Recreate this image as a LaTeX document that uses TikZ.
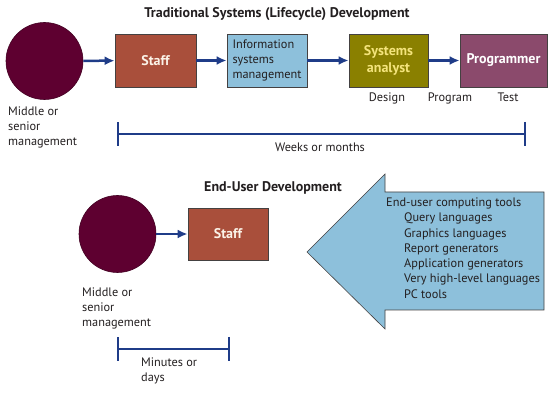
\documentclass[tikz,border=0pt]{standalone}
\usepackage{fontspec}
\setmainfont{PT Sans}
\usetikzlibrary{arrows.meta,positioning}
\definecolor{ink}{HTML}{231F20}
\definecolor{navy}{HTML}{1F3C88}
\definecolor{maroon}{HTML}{5E0030}
\definecolor{brick}{HTML}{A94F3B}
\definecolor{skyblue}{HTML}{8DC0DB}
\definecolor{olive}{HTML}{8A8000}
\definecolor{mauve}{HTML}{8B4A6C}
\definecolor{straw}{HTML}{F4E47C}
\definecolor{cream}{HTML}{FBF3E8}
\tikzset{
  >={Latex[length=10pt,width=9pt]},
  every node/.style={font=\fontsize{12.3}{15.3}\selectfont,text=ink},
  box/.style={draw=ink!85,line width=0.8pt,minimum height=53pt,inner sep=2pt,align=center},
  boldbox/.style={box,font=\fontsize{14}{17}\selectfont\bfseries},
  staffbox/.style={boldbox,fill=brick,minimum width=81pt,text=cream},
  ismbox/.style={box,fill=skyblue,minimum width=80pt,align=left},
  analystbox/.style={boldbox,fill=olive,minimum width=79pt,text=straw},
  progbox/.style={boldbox,fill=mauve,minimum width=87pt,text=white},
  mgr/.style={circle,fill=maroon,draw=maroon!70!black,line width=0.6pt,minimum size=77pt,inner sep=0pt},
  flow/.style={->,draw=navy,line width=2.5pt},
  span/.style={{Bar[width=24pt]}-{Bar[width=24pt]},draw=navy,line width=2pt},
  heading/.style={font=\fontsize{14}{17}\selectfont\bfseries,anchor=base},
  txt/.style={align=left,anchor=base west,inner sep=0pt},
  stage/.style={anchor=base,inner sep=0pt},
  toolarrow/.style={fill=skyblue,draw=ink!85,line width=0.6pt}
}
\begin{document}
\begin{tikzpicture}[x=1pt,y=-1pt]
  \useasboundingbox (0,0) rectangle (558,403);

  % traditional lifecycle
  \node[heading] (title1) at (277,18) {Traditional Systems (Lifecycle) Development};
  \node[mgr] (mgr1) at (44.5,61) {};
  \node[staffbox] (staff1) at (155.5,60.5) {Staff};
  \node[ismbox] (ism) at (267,60.5) {Information\\systems\\management};
  \node[analystbox] (analyst) at (388.5,60.5) {Systems\\analyst};
  \node[progbox] (prog) at (503.5,60.5) {Programmer};

  \draw[flow] (mgr1)--(staff1);
  \draw[flow] (staff1)--(ism);
  \draw[flow] (ism)--(analyst);
  \draw[flow] (analyst)--(prog);

  \node[stage] (design) at (387,102) {Design};
  \node[stage] (program) at (450,102) {Program};
  \node[stage] (test) at (508,102) {Test};

  % base anchor sits on the last line
  \node[txt] (mgrlabel1) at (8,146) {Middle or\\senior\\management};

  \coordinate (w0) at (117,134);
  \coordinate (w1) at (526,134);
  \draw[span] (w0)--(w1);
  \node[stage] (weeks) at (320,152) {Weeks or months};

  % end-user development
  \node[heading] (title2) at (273,192) {End-User Development};
  \node[mgr] (mgr2) at (117.5,234) {};
  \node[staffbox,minimum width=80pt,minimum height=52pt] (staff2) at (228,234) {Staff};
  \draw[flow] (mgr2)--(staff2);

  \node[txt] (mgrlabel2) at (82,327) {Middle or\\senior\\management};

  \coordinate (m0) at (117,349);
  \coordinate (m1) at (230,349);
  \draw[span] (m0)--(m1);
  \node[txt] (minutes) at (141,382) {Minutes or\\days};

  \draw[toolarrow] (307,252)--(385,174)--(385,192)--(544,192)--(544,310)--(385,310)--(385,329)--cycle;
  \node[txt] (tools) at (386,298.3) {End-user computing tools\\
    \hspace*{18pt}Query languages\\
    \hspace*{18pt}Graphics languages\\
    \hspace*{18pt}Report generators\\
    \hspace*{18pt}Application generators\\
    \hspace*{18pt}Very high-level languages\\
    \hspace*{18pt}PC tools};
\end{tikzpicture}
\end{document}
